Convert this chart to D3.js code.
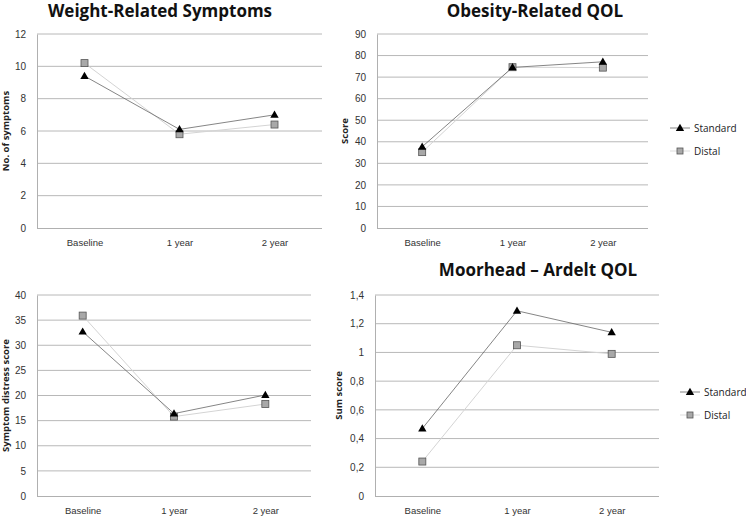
<!DOCTYPE html>
<html>
<head>
<meta charset="utf-8">
<script src="https://cdn.jsdelivr.net/npm/d3@7"></script>
<style>
  body { margin: 0; background: #fff; }
  svg { font-family: "Open Sans", "DejaVu Sans", sans-serif; }
</style>
</head>
<body>
<div id="graph"></div>
<script>
// categories and series values
const categories = ["Baseline", "1 year", "2 year"];

const weightStandard = [9.4, 6.1, 7.0];
const weightDistal = [10.2, 5.8, 6.4];
const weightTicks = [0, 2, 4, 6, 8, 10, 12];

const obesityStandard = [37.7, 74.5, 77.1];
const obesityDistal = [35.2, 74.6, 74.4];
const obesityTicks = [0, 10, 20, 30, 40, 50, 60, 70, 80, 90];

const distressStandard = [32.7, 16.4, 20.1];
const distressDistal = [35.9, 15.8, 18.3];
const distressTicks = [0, 5, 10, 15, 20, 25, 30, 35, 40];

const moorheadStandard = [0.47, 1.29, 1.14];
const moorheadDistal = [0.24, 1.05, 0.99];
const moorheadTicks = [0, 0.2, 0.4, 0.6, 0.8, 1, 1.2, 1.4];

const seriesNames = ["Standard", "Distal"];

const comma = d3.formatLocale({decimal: ",", thousands: ".", grouping: [3], currency: ["", ""]});

const svg = d3.select("#graph").append("svg")
    .attr("width", 746)
    .attr("height", 518);

function drawPanel(p) {
    const g = svg.append("g");
    const x = d3.scalePoint().domain(categories).range([p.left, p.right]).padding(0.5);
    const y = d3.scaleLinear().domain([0, d3.max(p.ticks)]).range([p.bottom, p.top]);

    // grid lines
    g.selectAll(".grid").data(p.ticks.slice(1)).enter().append("line")
        .attr("x1", p.left).attr("x2", p.right)
        .attr("y1", d => y(d)).attr("y2", d => y(d))
        .attr("stroke", "#b8b8b8").attr("stroke-width", 1);

    // axes
    const yAxis = d3.axisLeft(y).tickValues(p.ticks).tickSize(0).tickPadding(p.tickPad)
        .tickFormat(p.fmt);
    const ya = g.append("g").attr("transform", "translate(" + p.left + ",0)").call(yAxis);
    ya.select(".domain").attr("stroke", "#b0b0b0");
    ya.selectAll("text").attr("fill", "#333").style("font-size", "10px");

    const xAxis = d3.axisBottom(x).tickSize(0).tickPadding(11);
    const xa = g.append("g").attr("transform", "translate(0," + p.bottom + ")").call(xAxis);
    xa.select(".domain").attr("stroke", "#b0b0b0").attr("d", "M" + p.left + ",0.5H" + p.right);
    xa.selectAll("text").attr("fill", "#333").style("font-size", "9.5px");

    // title
    if (p.title) {
        g.append("text")
            .attr("x", p.titleX).attr("y", p.titleY)
            .attr("text-anchor", "middle")
            .style("font-size", "17px").style("font-weight", "bold")
            .attr("fill", "#111")
            .text(p.title);
    }

    // y label
    g.append("text")
        .attr("transform", "translate(" + p.labelX + "," + ((p.top + p.bottom) / 2) + ") rotate(-90)")
        .attr("text-anchor", "middle")
        .style("font-size", "9.5px").style("font-weight", "bold")
        .attr("fill", "#222")
        .text(p.label);

    const line = d3.line().x((d, i) => x(categories[i])).y(d => y(d));

    // distal first, standard on top
    g.append("path").attr("d", line(p.distal))
        .attr("fill", "none").attr("stroke", "#d4d4d4").attr("stroke-width", 1);
    g.append("path").attr("d", line(p.standard))
        .attr("fill", "none").attr("stroke", "#666").attr("stroke-width", 0.8);

    g.selectAll(".sq").data(p.distal).enter().append("rect")
        .attr("x", (d, i) => x(categories[i]) - 3.5)
        .attr("y", d => y(d) - 3.5)
        .attr("width", 7).attr("height", 7)
        .attr("fill", "#a8a8a8").attr("stroke", "#555").attr("stroke-width", 0.8);

    const tri = d3.symbol().type(d3.symbolTriangle).size(30);
    g.selectAll(".tri").data(p.standard).enter().append("path")
        .attr("d", tri)
        .attr("transform", (d, i) => "translate(" + x(categories[i]) + "," + (y(d) + 0.5) + ")")
        .attr("fill", "#000");

    // legend
    if (p.legendX) {
        seriesNames.forEach(function(name, i) {
            const ly = p.legendY + i * 23;
            const lg = g.append("g");
            lg.append("line")
                .attr("x1", p.legendX).attr("x2", p.legendX + 20)
                .attr("y1", ly).attr("y2", ly)
                .attr("stroke", i === 0 ? "#666" : "#d4d4d4").attr("stroke-width", 0.8);
            if (i === 0) {
                lg.append("path").attr("d", tri)
                    .attr("transform", "translate(" + (p.legendX + 10) + "," + (ly + 0.5) + ")")
                    .attr("fill", "#000");
            } else {
                lg.append("rect")
                    .attr("x", p.legendX + 7).attr("y", ly - 3)
                    .attr("width", 6).attr("height", 6)
                    .attr("fill", "#a8a8a8").attr("stroke", "#555").attr("stroke-width", 0.8);
            }
            lg.append("text")
                .attr("x", p.legendX + 24).attr("y", ly)
                .attr("dy", "0.35em")
                .style("font-size", "10px")
                .attr("fill", "#222")
                .text(name);
        });
    }
}

drawPanel({
    title: "Weight-Related Symptoms", titleX: 160, titleY: 17,
    label: "No. of symptoms", labelX: 9,
    left: 37, right: 322, top: 34, bottom: 228,
    ticks: weightTicks, fmt: d3.format("d"), tickPad: 11,
    standard: weightStandard, distal: weightDistal
});

drawPanel({
    title: "Obesity-Related QOL", titleX: 535, titleY: 17,
    label: "Score", labelX: 348,
    left: 377, right: 648, top: 34, bottom: 228,
    ticks: obesityTicks, fmt: d3.format("d"), tickPad: 11,
    standard: obesityStandard, distal: obesityDistal,
    legendX: 670, legendY: 128
});

drawPanel({
    title: null,
    label: "Symptom distress score", labelX: 9,
    left: 37, right: 311, top: 295, bottom: 496,
    ticks: distressTicks, fmt: d3.format("d"), tickPad: 11,
    standard: distressStandard, distal: distressDistal
});

drawPanel({
    title: "Moorhead \u2013 Ardelt QOL", titleX: 538, titleY: 276,
    label: "Sum score", labelX: 342,
    left: 375, right: 659, top: 295, bottom: 496,
    ticks: moorheadTicks, fmt: comma.format("~g"), tickPad: 11,
    standard: moorheadStandard, distal: moorheadDistal,
    legendX: 680, legendY: 392
});
</script>
</body>
</html>
